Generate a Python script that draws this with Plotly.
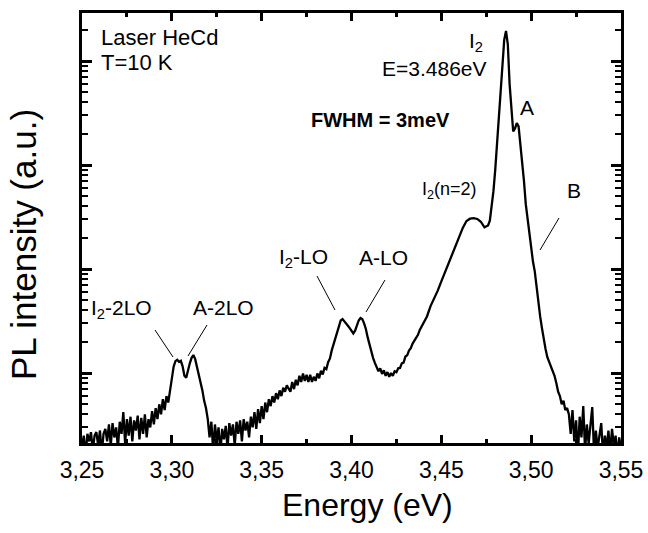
import plotly.graph_objects as go

# ---- data (energy in eV, PL intensity in a.u.) ----
energy = [
    3.250, 3.251, 3.252, 3.253, 3.254, 3.255, 3.256, 3.257, 3.258, 3.259,
    3.260, 3.261, 3.262, 3.263, 3.264, 3.265, 3.266, 3.267, 3.268, 3.269,
    3.270, 3.271, 3.272, 3.273, 3.274, 3.275, 3.276, 3.277, 3.278, 3.279,
    3.280, 3.281, 3.282, 3.283, 3.284, 3.285, 3.286, 3.287, 3.288, 3.289,
    3.290, 3.291, 3.292, 3.293, 3.294, 3.295, 3.296, 3.297, 3.298, 3.299,
    3.300, 3.301, 3.302, 3.303, 3.304, 3.305, 3.306, 3.307, 3.308, 3.309,
    3.310, 3.311, 3.312, 3.313, 3.314, 3.315, 3.316, 3.317, 3.318, 3.319,
    3.320, 3.321, 3.322, 3.323, 3.324, 3.325, 3.326, 3.327, 3.328, 3.329,
    3.330, 3.331, 3.332, 3.333, 3.334, 3.335, 3.336, 3.337, 3.338, 3.339,
    3.340, 3.341, 3.342, 3.343, 3.344, 3.345, 3.346, 3.347, 3.348, 3.349,
    3.350, 3.351, 3.352, 3.353, 3.354, 3.355, 3.356, 3.357, 3.358, 3.359,
    3.360, 3.361, 3.362, 3.363, 3.364, 3.365, 3.366, 3.367, 3.368, 3.369,
    3.370, 3.371, 3.372, 3.373, 3.374, 3.375, 3.376, 3.377, 3.378, 3.379,
    3.380, 3.381, 3.382, 3.383, 3.384, 3.385, 3.386, 3.387, 3.388, 3.389,
    3.390, 3.391, 3.392, 3.393, 3.394, 3.395, 3.396, 3.397, 3.398, 3.399,
    3.400, 3.401, 3.402, 3.403, 3.404, 3.405, 3.406, 3.407, 3.408, 3.409,
    3.410, 3.411, 3.412, 3.413, 3.414, 3.415, 3.416, 3.417, 3.418, 3.419,
    3.420, 3.421, 3.422, 3.423, 3.424, 3.425, 3.426, 3.427, 3.428, 3.429,
    3.430, 3.431, 3.432, 3.433, 3.434, 3.435, 3.436, 3.437, 3.438,
    3.440, 3.442, 3.444, 3.446, 3.448, 3.450, 3.452, 3.454, 3.456, 3.458,
    3.460, 3.462, 3.464, 3.466, 3.468, 3.470, 3.472, 3.474, 3.476,
    3.477, 3.478, 3.479, 3.480, 3.481, 3.482, 3.483, 3.484, 3.485, 3.486,
    3.487, 3.488, 3.489, 3.490, 3.491, 3.492, 3.493, 3.494, 3.495, 3.496,
    3.497, 3.498, 3.499, 3.500,
    3.501, 3.502, 3.503, 3.504, 3.505, 3.506, 3.507, 3.508, 3.509, 3.510,
    3.511, 3.512, 3.513, 3.514, 3.515, 3.516, 3.517, 3.518, 3.519, 3.520,
    3.521, 3.522, 3.523, 3.524, 3.525, 3.526, 3.527, 3.528, 3.529, 3.530,
    3.531, 3.532, 3.533, 3.534, 3.535, 3.536, 3.537, 3.538, 3.539, 3.540,
    3.541, 3.542, 3.543, 3.544, 3.545, 3.546, 3.547, 3.548, 3.549, 3.550,
]

intensity = [
    2.0, 2.5, 1.6, 2.6, 2.2, 2.7, 1.8, 2.5, 2.7, 2.0,
    2.8, 1.7, 2.6, 2.9, 2.2, 3.2, 2.0, 3.3, 2.4, 3.0,
    1.9, 3.4, 2.6, 4.2, 2.1, 3.6, 2.5, 3.8, 2.2, 3.5,
    2.8, 3.9, 2.3, 3.7, 2.6, 4.0, 2.4, 3.6, 3.0, 4.3,
    3.2, 4.6, 3.6, 5.0, 4.0, 5.6, 4.4, 6.0, 5.2, 7.0,
    9.0, 11.5, 13.0, 13.4, 12.8, 13.1, 11.6, 9.4, 9.0, 10.8,
    12.4, 14.0, 14.9, 13.6, 11.5, 9.8, 8.4, 6.8, 5.4, 4.6,
    3.6, 2.4, 3.4, 1.8, 3.2, 2.2, 3.0, 1.7, 2.9, 2.3,
    3.1, 1.9, 3.3, 2.5, 3.2, 2.0, 3.4, 2.6, 3.5, 2.2,
    3.6, 2.8, 3.4, 2.4, 3.8, 3.0, 4.2, 2.9, 4.5, 3.3,
    4.8, 3.6, 5.2, 4.2, 5.6, 4.8, 6.0, 5.2, 6.4, 5.6,
    6.8, 6.0, 7.2, 6.6, 7.6, 7.0, 6.6, 8.2, 7.0, 8.6,
    7.6, 9.4, 8.2, 9.9, 8.4, 9.6, 8.2, 9.6, 8.2, 9.2,
    8.4, 9.9, 8.9, 10.5, 9.7, 11.2, 10.9, 12.7, 13.8, 16.5,
    19.0, 22.0, 25.5, 29.0, 32.0, 33.0, 31.5, 30.5, 28.5, 27.0,
    25.0, 24.0, 25.5, 28.5, 32.0, 33.8, 33.0, 30.0, 26.5, 22.0,
    18.5, 16.0, 14.0, 12.5, 11.4, 10.4, 11.1, 9.8, 10.6, 9.4,
    10.2, 9.2, 10.0, 9.4, 10.4, 10.2, 11.1, 11.2, 12.4, 12.6,
    14.4, 14.8, 16.4, 17.3, 19.2, 20.3, 22.0, 23.3, 26.0,
    30, 35, 44, 52, 62, 76, 92, 112, 136, 168,
    205, 250, 290, 305, 309, 303, 285, 252, 262,
    292, 390, 560, 900, 1650, 2900, 4900, 8600, 16000, 19500,
    14500, 6000, 3100, 2100, 2250, 2530, 2350, 1600, 1100, 700,
    420, 300, 210, 150,
    118, 95, 66, 48, 35, 27, 21, 17, 14.2, 12.8,
    11.4, 10.6, 9.4, 8.0, 6.6, 6.0, 5.0, 5.4, 4.4, 4.6,
    4.0, 2.6, 4.4, 2.2, 3.5, 1.6, 3.8, 2.4, 4.8, 1.8,
    3.2, 2.1, 3.0, 4.7, 1.7, 2.8, 1.9, 2.6, 3.3, 1.6,
    2.5, 1.9, 2.8, 1.7, 2.9, 2.0, 2.5, 1.6, 2.4, 1.9,
]

x_tick_vals = [3.25, 3.30, 3.35, 3.40, 3.45, 3.50, 3.55]
x_tick_text = ["3,25", "3,30", "3,35", "3,40", "3,45", "3,50", "3,55"]
x_title = "Energy (eV)"
y_title = "PL intensity (a.u.)"

FONT = "Liberation Sans, Arial, sans-serif"

# plot area in pixels (left, right, top, bottom)
PL, PR, PT, PB = 82, 621, 13, 443


def paper(x, y):
    return (x - PL) / (PR - PL), (PB - y) / (PB - PT)


fig = go.Figure()
fig.add_trace(go.Scatter(
    x=energy, y=intensity, mode="lines",
    line=dict(color="black", width=2.3), showlegend=False,
))

annots = [
    ("Laser HeCd", 99, 37, "left", 22, False),
    ("T=10 K", 99, 62, "left", 22, False),
    ("FWHM = 3meV", 380, 120, "center", 20, True),
    ("I<sub>2</sub>", 467, 42, "left", 21, False),
    ("E=3.486eV", 489, 68, "right", 21, False),
    ("A", 527, 107, "center", 21, False),
    ("I<sub>2</sub>(n=2)", 420, 190, "left", 18, False),
    ("B", 574, 190, "center", 21, False),
    ("I<sub>2</sub>-LO", 277, 258, "left", 21, False),
    ("A-LO", 383, 257, "center", 21, False),
    ("I<sub>2</sub>-2LO", 89, 309, "left", 21, False),
    ("A-2LO", 223, 307, "center", 21, False),
]
for text, x, y, anchor, size, bold in annots:
    px, py = paper(x, y)
    fig.add_annotation(
        x=px, y=py, xref="paper", yref="paper", text=f"<b>{text}</b>" if bold else text,
        showarrow=False, xanchor=anchor, yanchor="middle",
        font=dict(family=FONT, size=size, color="black"),
    )

# axis titles (placed as in the reference, slightly off-centre)
tx, ty = paper(367, 505)
fig.add_annotation(x=tx, y=ty, xref="paper", yref="paper", text=x_title,
                   showarrow=False, xanchor="center", yanchor="middle",
                   font=dict(family=FONT, size=32, color="black"))
tx, ty = paper(24, 245)
fig.add_annotation(x=tx, y=ty, xref="paper", yref="paper", text=y_title,
                   showarrow=False, xanchor="center", yanchor="middle",
                   textangle=-90,
                   font=dict(family=FONT, size=35, color="black"))

leader_lines = [
    (155, 330, 173, 357),
    (207, 325, 188, 356),
    (317, 276, 335, 310),
    (385, 280, 366, 312),
    (559, 218, 540, 250),
]
for x0, y0, x1, y1 in leader_lines:
    a0, b0 = paper(x0, y0)
    a1, b1 = paper(x1, y1)
    fig.add_shape(type="line", xref="paper", yref="paper",
                  x0=a0, y0=b0, x1=a1, y1=b1,
                  line=dict(color="black", width=1))

fig.update_layout(
    width=648, height=533,
    margin=dict(l=PL, r=648 - PR, t=PT, b=533 - PB, autoexpand=False),
    paper_bgcolor="white", plot_bgcolor="white",
    font=dict(family=FONT, color="black"),
    xaxis=dict(
        range=[3.25, 3.55], tickmode="array",
        tickvals=x_tick_vals, ticktext=x_tick_text,
        ticks="inside", ticklen=8, tickwidth=2.5, tickcolor="black",
        showline=True, linecolor="black", linewidth=3, mirror="ticks",
        showgrid=False, zeroline=False, automargin=False,
        tickfont=dict(family=FONT, size=23, color="black"),
        ticklabelstandoff=4,
        minor=dict(tick0=3.25, dtick=0.025, ticks="inside",
                   ticklen=4, tickwidth=2.5, tickcolor="black", showgrid=False),
    ),
    yaxis=dict(
        type="log", range=[0.327, 4.462], tickmode="linear", tick0=0, dtick=1,
        showticklabels=False,
        ticks="inside", ticklen=10, tickwidth=2.5, tickcolor="black",
        showline=True, linecolor="black", linewidth=3, mirror="ticks",
        showgrid=False, zeroline=False, automargin=False,
        minor=dict(ticks="inside", ticklen=6, tickwidth=2, tickcolor="black",
                   showgrid=False),
    ),
)

fig.write_html("out.html", config={"displayModeBar": False},
               post_script="document.body.style.margin='0';")
